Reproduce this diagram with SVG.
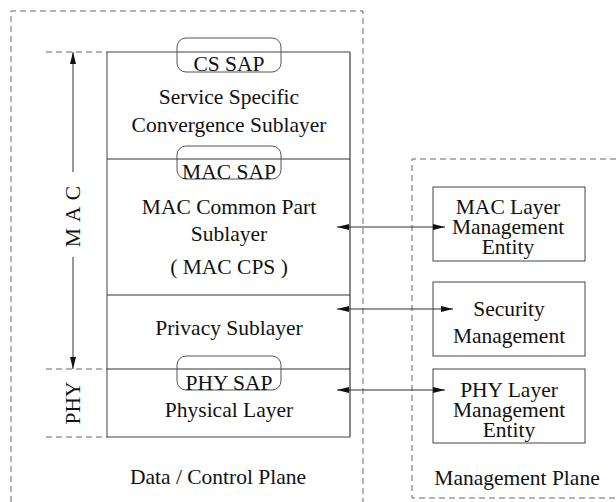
<svg xmlns="http://www.w3.org/2000/svg" width="616" height="502" viewBox="0 0 616 502">
<style>
text{font-family:"Liberation Serif","Times New Roman",serif;font-size:21.5px;fill:#111;text-anchor:middle}
.dash{fill:none;stroke:#666;stroke-width:1;stroke-dasharray:6 4}
.box{fill:#fff;stroke:#444;stroke-width:1}
.sap{fill:none;stroke:#555;stroke-width:1}
.ln{stroke:#333;stroke-width:1;fill:none}
</style>
<defs>
<marker id="ah" viewBox="0 0 12 6" refX="12" refY="3" markerWidth="12" markerHeight="6" markerUnits="userSpaceOnUse" orient="auto-start-reverse">
<path d="M0,0 L12,3 L0,6 Z" fill="#111"/>
</marker>
</defs>
<g id="planes">
<path class="dash" d="M11,502 V11 H363 V502"/>
<path class="dash" d="M616,159 H412 V498 H616"/>
<path class="dash" d="M46,52 H107 M46,369 H107 M46,437 H107"/>
</g>
<g id="stack">
<rect class="box" x="107" y="52" width="243" height="385"/>
<line x1="350" y1="52" x2="350" y2="437" stroke="#888" stroke-width="2"/>
<path class="ln" d="M107,159 H350 M107,295 H350 M107,369 H350"/>
</g>
<g id="cs">
<rect class="sap" x="177" y="38" width="104" height="34" rx="9"/>
<text x="229" y="71">CS SAP</text>
<text x="229" y="104">Service Specific</text>
<text x="229" y="132">Convergence Sublayer</text>
</g>
<g id="mac-cps">
<rect class="sap" x="177" y="146" width="104" height="33" rx="9"/>
<text x="229" y="179">MAC SAP</text>
<text x="229" y="214">MAC Common Part</text>
<text x="229" y="241">Sublayer</text>
<text x="229" y="274">( MAC CPS )</text>
</g>
<g id="privacy">
<text x="229" y="335">Privacy Sublayer</text>
</g>
<g id="phy">
<rect class="sap" x="177" y="356" width="104" height="34" rx="9"/>
<text x="229" y="390">PHY SAP</text>
<text x="229" y="417">Physical Layer</text>
</g>
<g id="labels">
<text transform="translate(80,216) rotate(-90)" letter-spacing="1">M A C</text>
<text transform="translate(80,403) rotate(-90)">PHY</text>
<text x="218" y="484">Data / Control Plane</text>
<text x="517" y="485">Management Plane</text>
</g>
<g id="mac-lme">
<rect class="box" x="433" y="187" width="152" height="74"/>
<text x="508" y="214">MAC Layer</text>
<text x="508" y="234">Management</text>
<text x="508" y="254">Entity</text>
</g>
<g id="security">
<rect class="box" x="433" y="282" width="152" height="74"/>
<text x="509" y="316">Security</text>
<text x="509" y="343">Management</text>
</g>
<g id="phy-lme">
<rect class="box" x="433" y="369" width="152" height="74"/>
<text x="509" y="397">PHY Layer</text>
<text x="509" y="417">Management</text>
<text x="509" y="437">Entity</text>
</g>
<g id="connectors">
<line class="ln" x1="73" y1="172" x2="73" y2="52" marker-end="url(#ah)"/>
<line class="ln" x1="73" y1="257" x2="73" y2="369" marker-end="url(#ah)"/>
<line class="ln" x1="337" y1="227" x2="445" y2="227" marker-start="url(#ah)" marker-end="url(#ah)"/>
<line class="ln" x1="337" y1="309" x2="453" y2="309" marker-start="url(#ah)" marker-end="url(#ah)"/>
<line class="ln" x1="337" y1="390" x2="445" y2="390" marker-start="url(#ah)" marker-end="url(#ah)"/>
</g>
</svg>
